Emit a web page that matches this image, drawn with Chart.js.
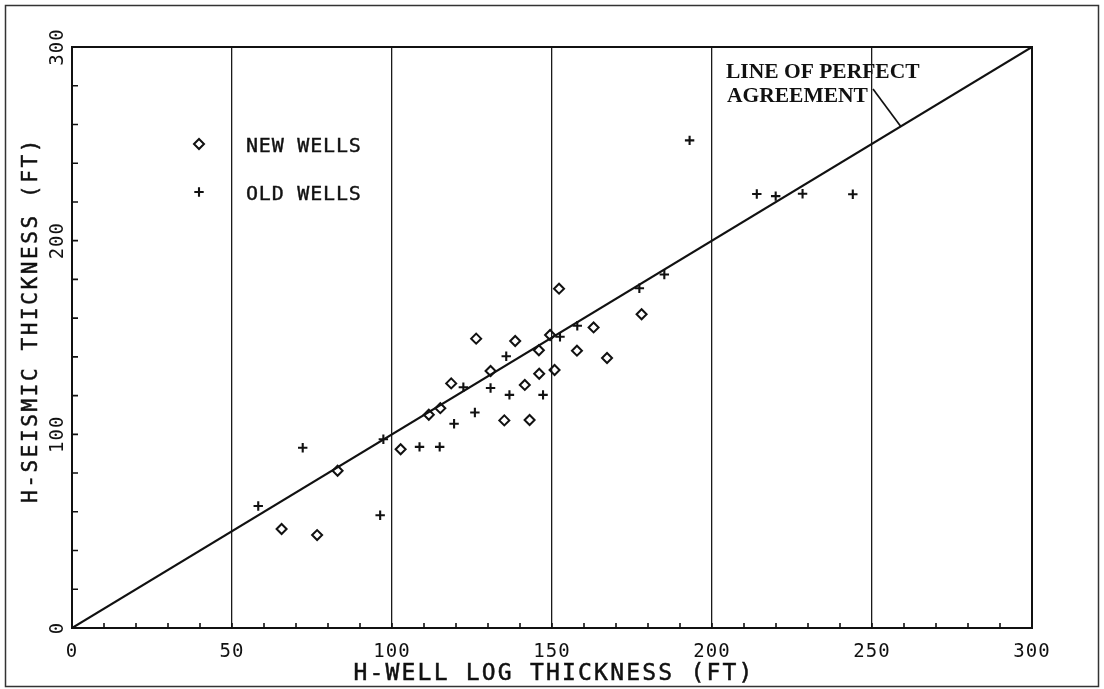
<!DOCTYPE html>
<html>
<head>
<meta charset="utf-8">
<script src="https://cdn.jsdelivr.net/npm/chart.js@4.4.1/dist/chart.umd.min.js"></script>
<style>
html,body{margin:0;padding:0;background:#fff;}
canvas{display:block;}
</style>
</head>
<body>
<canvas id="c" width="1104" height="689"></canvas>
<script>
// ---- data ----
const xTickValues = [0, 50, 100, 150, 200, 250, 300];
const yTickValues = [0, 100, 200, 300];

const newWellsX = [65.5, 76.6, 83.0, 102.7, 111.5, 115.1, 118.5, 126.3, 130.8, 135.1, 138.5,
                   141.5, 143.0, 145.9, 146.0, 149.4, 150.8, 152.2, 157.8, 163.0, 167.2, 178.0];
const newWellsY = [51.1, 48.0, 81.2, 92.3, 110.1, 113.5, 126.3, 149.4, 132.7, 107.2, 148.2,
                   125.5, 107.4, 143.4, 131.3, 151.3, 133.2, 175.2, 143.2, 155.2, 139.4, 162.0];

const oldWellsX = [58.2, 72.1, 96.3, 97.3, 108.6, 114.9, 119.4, 122.3, 125.9, 130.8, 135.7,
                   136.7, 147.2, 152.5, 157.9, 177.3, 185.1, 193.0, 214.0, 219.9, 228.3, 244.0];
const oldWellsY = [63.0, 93.1, 58.2, 97.5, 93.5, 93.5, 105.5, 124.3, 111.3, 123.9, 140.3,
                   120.4, 120.4, 150.4, 156.1, 175.4, 182.5, 251.8, 224.1, 223.0, 224.2, 224.0];

const agreementX = [0, 300];
const agreementY = [0, 300];

const seriesNames = ['NEW WELLS', 'OLD WELLS'];
const xTitle = 'H-WELL LOG THICKNESS (FT)';
const yTitle = 'H-SEISMIC THICKNESS (FT)';
const noteLines = ['LINE OF PERFECT', 'AGREEMENT'];
const notePointerValue = 259;

// ---- styling ----
const INK = '#111';
const MONO = '"DejaVu Sans Mono", "Liberation Mono", monospace';
const SERIF = '"Liberation Serif", "DejaVu Serif", serif';

const toPoints = (xs, ys) => xs.map((v, i) => ({ x: v, y: ys[i] }));

const newStyle = { pointStyle: 'rectRot', radius: 5, borderWidth: 2 };
const oldStyle = { pointStyle: 'cross', radius: 4.7, borderWidth: 2.1 };

const decor = {
  id: 'decor',
  beforeDraw(chart) {
    const ctx = chart.ctx;
    ctx.save();
    ctx.fillStyle = '#fff';
    ctx.fillRect(0, 0, chart.width, chart.height);
    ctx.restore();
    ctx.letterSpacing = '1px';
  },
  afterDraw(chart) {
    const { ctx, chartArea: a, scales: { x, y } } = chart;
    ctx.save();
    ctx.letterSpacing = '0px';
    ctx.strokeStyle = INK;
    ctx.fillStyle = INK;

    // plot frame
    ctx.lineWidth = 2;
    ctx.strokeRect(a.left, a.top, a.right - a.left, a.bottom - a.top);

    // inward minor ticks
    ctx.lineWidth = 1.6;
    ctx.beginPath();
    for (let v = 10; v < 300; v += 10) {
      const px = x.getPixelForValue(v);
      ctx.moveTo(px, a.bottom);
      ctx.lineTo(px, a.bottom - 5);
    }
    for (let v = 20; v < 300; v += 20) {
      const py = y.getPixelForValue(v);
      ctx.moveTo(a.left, py);
      ctx.lineTo(a.left + 6, py);
    }
    ctx.stroke();

    // outer border of the figure
    ctx.lineWidth = 1.5;
    ctx.strokeStyle = '#333';
    ctx.strokeRect(5.5, 5.5, 1093, 681);
    ctx.strokeStyle = INK;

    // axis titles
    ctx.font = '23px ' + MONO;
    ctx.letterSpacing = '2.2px';
    ctx.textAlign = 'center';
    ctx.textBaseline = 'alphabetic';
    ctx.lineWidth = 0.5;
    ctx.fillText(xTitle, (a.left + a.right) / 2 + 2, 680);
    ctx.strokeText(xTitle, (a.left + a.right) / 2 + 2, 680);

    ctx.save();
    ctx.font = '21px ' + MONO;
    ctx.letterSpacing = '2.6px';
    ctx.translate(37, 320);
    ctx.rotate(-Math.PI / 2);
    ctx.fillText(yTitle, 0, 0);
    ctx.strokeText(yTitle, 0, 0);
    ctx.restore();

    // legend
    const legendItems = [
      { style: newStyle, text: seriesNames[0], y: 144 },
      { style: oldStyle, text: seriesNames[1], y: 192 }
    ];
    ctx.font = '20px ' + MONO;
    ctx.letterSpacing = '0.8px';
    ctx.textAlign = 'left';
    legendItems.forEach(it => {
      ctx.save();
      ctx.strokeStyle = INK;
      ctx.fillStyle = 'rgba(0,0,0,0)';
      ctx.lineWidth = it.style.borderWidth;
      Chart.helpers.drawPoint(ctx, { pointStyle: it.style.pointStyle, radius: it.style.radius, borderWidth: it.style.borderWidth, rotation: 0 }, 199, it.y);
      ctx.restore();
      ctx.lineWidth = 0.4;
      ctx.fillText(it.text, 246, it.y + 7.5);
      ctx.strokeText(it.text, 246, it.y + 7.5);
    });

    // note
    ctx.letterSpacing = '0px';
    ctx.font = 'bold 21.5px ' + SERIF;
    ctx.fillText(noteLines[0], 726, 78);
    ctx.fillText(noteLines[1], 727, 102);
    ctx.lineWidth = 1.7;
    ctx.beginPath();
    ctx.moveTo(873, 89);
    ctx.lineTo(x.getPixelForValue(notePointerValue), y.getPixelForValue(notePointerValue));
    ctx.stroke();

    ctx.restore();
  }
};

new Chart(document.getElementById('c'), {
  type: 'scatter',
  data: {
    datasets: [
      {
        label: seriesNames[0],
        data: toPoints(newWellsX, newWellsY),
        pointStyle: newStyle.pointStyle,
        pointRadius: newStyle.radius,
        pointBorderWidth: newStyle.borderWidth,
        pointBorderColor: INK,
        pointBackgroundColor: 'rgba(0,0,0,0)',
        borderColor: INK,
        backgroundColor: 'rgba(0,0,0,0)'
      },
      {
        label: seriesNames[1],
        data: toPoints(oldWellsX, oldWellsY),
        pointStyle: oldStyle.pointStyle,
        pointRadius: oldStyle.radius,
        pointBorderWidth: oldStyle.borderWidth,
        pointBorderColor: INK,
        pointBackgroundColor: INK,
        borderColor: INK
      },
      {
        label: 'agreement',
        data: toPoints(agreementX, agreementY),
        showLine: true,
        pointRadius: 0,
        borderColor: INK,
        borderWidth: 2.2,
        fill: false
      }
    ]
  },
  options: {
    responsive: false,
    animation: false,
    devicePixelRatio: 1,
    events: [],
    layout: { padding: { top: 47, right: 72, left: 0, bottom: 0 } },
    plugins: { legend: { display: false }, tooltip: { enabled: false } },
    scales: {
      x: {
        type: 'linear',
        min: 0, max: 300,
        afterBuildTicks: s => { s.ticks = xTickValues.map(v => ({ value: v })); },
        afterFit: s => { s.height = 61; },
        grid: { display: true, drawTicks: false, color: '#1a1a1a', lineWidth: 1.3 },
        border: { display: false },
        ticks: {
          color: INK,
          padding: 13,
          maxRotation: 0,
          font: { family: MONO, size: 19 },
          callback: v => String(v)
        }
      },
      y: {
        type: 'linear',
        min: 0, max: 300,
        afterBuildTicks: s => { s.ticks = yTickValues.map(v => ({ value: v })); },
        afterFit: s => { s.width = 72; },
        grid: { display: false, drawTicks: false },
        border: { display: false },
        ticks: {
          color: INK,
          padding: -3,
          minRotation: 90,
          maxRotation: 90,
          crossAlign: 'center',
          font: { family: MONO, size: 19 },
          callback: v => String(v)
        }
      }
    }
  },
  plugins: [decor]
});
</script>
</body>
</html>
